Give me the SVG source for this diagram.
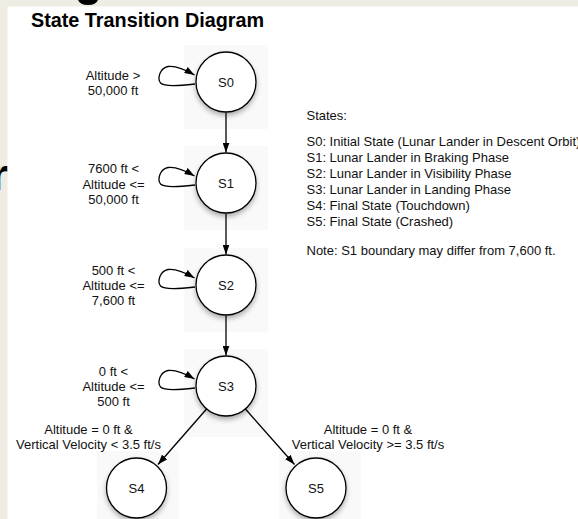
<svg xmlns="http://www.w3.org/2000/svg" width="578" height="519" viewBox="0 0 578 519">
  <style>
    .lbl { font-family: "Liberation Sans", Arial, sans-serif; font-size: 13px; fill: #111; }
    .mid { text-anchor: middle; }
    .title { font-family: "Liberation Sans", Arial, sans-serif; font-size: 19.8px; font-weight: bold; fill: #000; }
    .state { fill: #fff; stroke: #000; stroke-width: 1.3; filter: url(#shadow); }
    .pad { fill: #f9f9f9; }
    .edge { fill: none; stroke: #000; stroke-width: 1.3; marker-end: url(#arrow); }
  </style>
  <defs>
    <marker id="arrow" markerUnits="userSpaceOnUse" markerWidth="10" markerHeight="7" refX="10" refY="3.5" orient="auto">
      <path d="M0,0 L10,3.5 L0,7 z" fill="#000"/>
    </marker>
    <filter id="shadow" x="-30%" y="-30%" width="160%" height="170%">
      <feDropShadow dx="0" dy="3" stdDeviation="2.5" flood-color="#000" flood-opacity="0.3"/>
    </filter>
  </defs>

  <!-- slide background and clipped slide heading behind the panel -->
  <rect x="0" y="0" width="578" height="519" fill="#efede3"/>
  <path d="M78,0 Q80,5 88,5 Q96,5 98,0 Z" fill="#000"/>
  <text x="-9" y="190" font-family="'Liberation Sans', Arial, sans-serif" font-size="44" font-weight="bold" fill="#000">r</text>
  <rect x="7.5" y="6.5" width="571" height="513" fill="#fff"/>

  <text class="title" x="31" y="26.5">State Transition Diagram</text>

  <!-- soft backing panels behind the states -->
  <rect class="pad" x="184" y="45" width="84" height="84"/>
  <rect class="pad" x="184" y="146" width="84" height="84"/>
  <rect class="pad" x="184" y="248" width="84" height="84"/>
  <rect class="pad" x="184" y="349" width="84" height="88"/>
  <rect class="pad" x="97" y="451" width="82" height="68"/>
  <rect class="pad" x="279" y="451" width="82" height="68"/>

  <!-- connectors -->
  <g id="connectors">
    <path class="edge" d="M195,84 C180,85.5 165,87 160.5,83 C157,78 160,68 168,66.5 C176,65.5 186,70 194.5,75"/>
    <path class="edge" d="M195,185 C180,186.5 165,188 160.5,184 C157,179 160,169 168,167.5 C176,166.5 186,171 194.5,176"/>
    <path class="edge" d="M195,287 C180,288.5 165,290 160.5,286 C157,281 160,271 168,269.5 C176,268.5 186,273 194.5,278"/>
    <path class="edge" d="M195,388 C180,389.5 165,391 160.5,387 C157,382 160,372 168,370.5 C176,369.5 186,374 194.5,379"/>
    <line class="edge" x1="226" y1="112.5" x2="226" y2="152.5"/>
    <line class="edge" x1="226" y1="213.5" x2="226" y2="254.5"/>
    <line class="edge" x1="226" y1="315.5" x2="226" y2="355.5"/>
    <line class="edge" x1="207" y1="408.5" x2="158" y2="464.5"/>
    <line class="edge" x1="245" y1="408.5" x2="294.5" y2="464.5"/>
  </g>

  <!-- transition labels -->
  <g id="edge-labels">
    <text class="lbl mid" x="113" y="79.5">Altitude &gt;</text>
    <text class="lbl mid" x="113" y="95">50,000 ft</text>
    <text class="lbl mid" x="113.5" y="173">7600 ft &lt;</text>
    <text class="lbl mid" x="113.5" y="188.5">Altitude &lt;=</text>
    <text class="lbl mid" x="113.5" y="204">50,000 ft</text>
    <text class="lbl mid" x="113.5" y="275">500 ft &lt;</text>
    <text class="lbl mid" x="113.5" y="290">Altitude &lt;=</text>
    <text class="lbl mid" x="113.5" y="305">7,600 ft</text>
    <text class="lbl mid" x="113.5" y="376">0 ft &lt;</text>
    <text class="lbl mid" x="113.5" y="391">Altitude &lt;=</text>
    <text class="lbl mid" x="113.5" y="406">500 ft</text>
    <text class="lbl mid" x="88.5" y="433.5">Altitude = 0 ft &amp;</text>
    <text class="lbl mid" x="88.5" y="449">Vertical Velocity &lt; 3.5 ft/s</text>
    <text class="lbl mid" x="368" y="433.5">Altitude = 0 ft &amp;</text>
    <text class="lbl mid" x="368" y="449">Vertical Velocity &gt;= 3.5 ft/s</text>
  </g>

  <!-- states -->
  <g id="S0"><circle class="state" cx="226" cy="82" r="30"/><text class="lbl mid" x="226" y="87">S0</text></g>
  <g id="S1"><circle class="state" cx="226" cy="183" r="30"/><text class="lbl mid" x="226" y="188">S1</text></g>
  <g id="S2"><circle class="state" cx="226" cy="285" r="30"/><text class="lbl mid" x="226" y="290">S2</text></g>
  <g id="S3"><circle class="state" cx="226" cy="386" r="30"/><text class="lbl mid" x="226" y="391">S3</text></g>
  <g id="S4"><circle class="state" cx="136.5" cy="488" r="30"/><text class="lbl mid" x="136.5" y="493">S4</text></g>
  <g id="S5"><circle class="state" cx="316" cy="488" r="30"/><text class="lbl mid" x="316" y="493">S5</text></g>

  <!-- legend -->
  <g id="legend">
    <text class="lbl" x="306.5" y="120">States:</text>
    <text class="lbl" x="306.5" y="146">S0: Initial State (Lunar Lander in Descent Orbit)</text>
    <text class="lbl" x="306.5" y="162">S1: Lunar Lander in Braking Phase</text>
    <text class="lbl" x="306.5" y="178">S2: Lunar Lander in Visibility Phase</text>
    <text class="lbl" x="306.5" y="194">S3: Lunar Lander in Landing Phase</text>
    <text class="lbl" x="306.5" y="210">S4: Final State (Touchdown)</text>
    <text class="lbl" x="306.5" y="226">S5: Final State (Crashed)</text>
    <text class="lbl" x="306.5" y="255">Note: S1 boundary may differ from 7,600 ft.</text>
  </g>
</svg>
